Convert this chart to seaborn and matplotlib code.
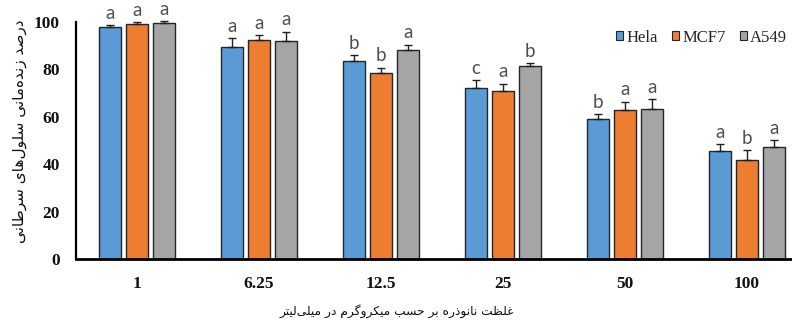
import matplotlib
matplotlib.use("Agg")
import matplotlib.pyplot as plt
from matplotlib.patches import Patch
import seaborn as sns
import pandas as pd

# ---- data -------------------------------------------------------------
concentrations = ["1", "6.25", "12.5", "25", "50", "100"]
cell_lines = ["Hela", "MCF7", "A549"]

hela = [97.6, 89.5, 83.4, 72.2, 59.1, 45.5]
mcf7 = [99.1, 92.3, 78.2, 71.0, 62.8, 41.8]
a549 = [99.6, 91.7, 88.2, 81.2, 63.3, 47.2]

hela_err = [0.8, 3.5, 2.5, 3.1, 1.8, 2.8]
mcf7_err = [0.6, 2.0, 2.4, 2.9, 3.5, 4.1]
a549_err = [0.5, 4.0, 2.0, 1.3, 4.0, 2.9]

hela_sig = ["a", "a", "b", "c", "b", "a"]
mcf7_sig = ["a", "a", "b", "a", "a", "b"]
a549_sig = ["a", "a", "a", "b", "a", "a"]

y_ticks = [0, 20, 40, 60, 80, 100]
ylabel_text = "درصد زنده‌مانی سلول‌های سرطانی"
xlabel_text = "غلظت نانوذره بر حسب میکروگرم در میلی‌لیتر"

colors = ["#5B9BD5", "#ED7D31", "#A5A5A5"]

# ---- simple Arabic-script shaping (presentation forms + RTL order) ----
FORMS = {
    # char: (isolated, final, initial, medial) ; None initial => right-joining only
    "ا": ("\uFE8D", "\uFE8E", None, None),
    "ب": ("\uFE8F", "\uFE90", "\uFE91", "\uFE92"),
    "ت": ("\uFE95", "\uFE96", "\uFE97", "\uFE98"),
    "ح": ("\uFEA1", "\uFEA2", "\uFEA3", "\uFEA4"),
    "د": ("\uFEA9", "\uFEAA", None, None),
    "ذ": ("\uFEAB", "\uFEAC", None, None),
    "ر": ("\uFEAD", "\uFEAE", None, None),
    "ز": ("\uFEAF", "\uFEB0", None, None),
    "س": ("\uFEB1", "\uFEB2", "\uFEB3", "\uFEB4"),
    "ص": ("\uFEB9", "\uFEBA", "\uFEBB", "\uFEBC"),
    "ط": ("\uFEC1", "\uFEC2", "\uFEC3", "\uFEC4"),
    "ظ": ("\uFEC5", "\uFEC6", "\uFEC7", "\uFEC8"),
    "غ": ("\uFECD", "\uFECE", "\uFECF", "\uFED0"),
    "ل": ("\uFEDD", "\uFEDE", "\uFEDF", "\uFEE0"),
    "م": ("\uFEE1", "\uFEE2", "\uFEE3", "\uFEE4"),
    "ن": ("\uFEE5", "\uFEE6", "\uFEE7", "\uFEE8"),
    "ه": ("\uFEE9", "\uFEEA", "\uFEEB", "\uFEEC"),
    "و": ("\uFEED", "\uFEEE", None, None),
    "ی": ("\uFBFC", "\uFBFD", "\uFBFE", "\uFBFF"),
    "ک": ("\uFB8E", "\uFB8F", "\uFB90", "\uFB91"),
    "گ": ("\uFB92", "\uFB93", "\uFB94", "\uFB95"),
}


def shape_rtl(text):
    chars = list(text)
    out = []
    for i, ch in enumerate(chars):
        if ch not in FORMS:
            if ch != "\u200c":
                out.append(ch)
            continue
        prev = chars[i - 1] if i > 0 else None
        nxt = chars[i + 1] if i + 1 < len(chars) else None
        joins_prev = prev in FORMS and FORMS[prev][2] is not None
        joins_next = FORMS[ch][2] is not None and nxt in FORMS
        iso, fin, ini, med = FORMS[ch]
        if joins_prev and joins_next:
            out.append(med)
        elif joins_prev:
            out.append(fin)
        elif joins_next:
            out.append(ini)
        else:
            out.append(iso)
    return "".join(reversed(out))


# ---- long-form table --------------------------------------------------
df = pd.DataFrame({
    "conc": concentrations * 3,
    "line": [c for c in cell_lines for _ in concentrations],
    "value": hela + mcf7 + a549,
})
errs = [hela_err, mcf7_err, a549_err]
sigs = [hela_sig, mcf7_sig, a549_sig]

# ---- figure -----------------------------------------------------------
sns.set_theme(style="white")
fig = plt.figure(figsize=(7.92, 3.29), dpi=100)
ax = fig.add_axes([76 / 792, 70 / 329, 732 / 792, 237.3 / 329])

sns.barplot(data=df, x="conc", y="value", hue="line", order=concentrations,
            hue_order=cell_lines, palette=colors, width=0.665, gap=0.2,
            edgecolor="#1e2630", linewidth=1.0, saturation=1,
            errorbar=None, legend=False, ax=ax)

for cont, err, sig in zip(ax.containers, errs, sigs):
    for bar, e, s in zip(cont, err, sig):
        xc = bar.get_x() + bar.get_width() / 2
        h = bar.get_height()
        ax.errorbar(xc, h, yerr=[[0], [e]], fmt="none", ecolor="#202020",
                    elinewidth=1.0, capsize=3, capthick=1.0, clip_on=False,
                    zorder=3)
        ax.annotate(s, (xc, h + e), xytext=(0, 2.5), textcoords="offset points",
                    ha="center", va="bottom", fontsize=13.5, color="#505050",
                    family="Lato", annotation_clip=False)

ax.set_xlim(-0.5, 5.5)
ax.set_ylim(0, 100)
ax.set_yticks(y_ticks)
ax.set_xlabel("")
ax.set_ylabel("")
for side in ["top", "right"]:
    ax.spines[side].set_visible(False)
ax.spines["left"].set_color("black")
ax.spines["left"].set_linewidth(1.6)
ax.spines["bottom"].set_color("black")
ax.spines["bottom"].set_linewidth(2.0)
ax.tick_params(axis="both", length=0)
ax.tick_params(axis="y", pad=11.5)
ax.tick_params(axis="x", pad=12)
for lbl in ax.get_xticklabels() + ax.get_yticklabels():
    lbl.set_fontfamily("Liberation Serif")
    lbl.set_fontweight("bold")
    lbl.set_fontsize(12.5)
    lbl.set_color("#111111")

handles = [Patch(facecolor=c, edgecolor="#1e2630", linewidth=0.8) for c in colors]
fig.legend(handles, cell_lines, loc="center left",
           bbox_to_anchor=(616 / 792, 1 - 37.5 / 329), ncol=3, frameon=False,
           handlelength=0.42, handleheight=0.42, handletextpad=0.2,
           columnspacing=0.85, borderpad=0, borderaxespad=0,
           prop={"family": "Liberation Serif", "size": 12})

fig.text(20 / 792, 1 - 131 / 329, shape_rtl(ylabel_text), rotation=90,
         ha="center", va="center", fontsize=11, family="DejaVu Sans",
         color="#111111")
fig.text(397 / 792, 1 - 311 / 329, shape_rtl(xlabel_text),
         ha="center", va="center", fontsize=8.8, family="DejaVu Sans",
         color="#111111")

fig.savefig("out.png", dpi=100)
